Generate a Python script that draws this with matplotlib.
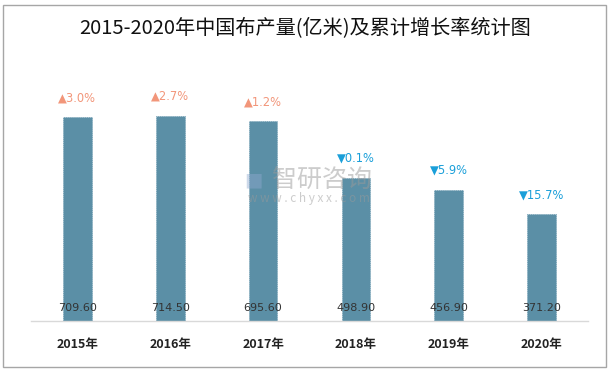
import matplotlib.pyplot as plt
from matplotlib.patches import Rectangle

plt.rcParams['font.family'] = ['Noto Sans CJK SC', 'DejaVu Sans']

years = ['2015年', '2016年', '2017年', '2018年', '2019年', '2020年']
output = [709.60, 714.50, 695.60, 498.90, 456.90, 371.20]
growth = [3.0, 2.7, 1.2, -0.1, -5.9, -15.7]

bar_color = '#5b8fa6'
up_color = '#f2967a'
down_color = '#1a9fd9'

fig = plt.figure(figsize=(6.11, 3.70), dpi=100)
ax = fig.add_axes([31 / 611, 49 / 370, 557 / 611, 262 / 370])

x = list(range(len(years)))
ax.bar(x, output, width=0.31, color=bar_color, edgecolor='#6f9db2',
       linewidth=0.5, linestyle=(0, (1.5, 1.5)))

for i, v in enumerate(output):
    ax.text(i, 45, f'{v:.2f}', ha='center', va='center', fontsize=8,
            color='#333333', family=['DejaVu Sans'])
    g = growth[i]
    if g >= 0:
        s, c = f'▲{abs(g):.1f}%', up_color
    else:
        s, c = f'▼{abs(g):.1f}%', down_color
    ax.annotate(s, xy=(i, v), xytext=(0, 14), textcoords='offset points',
                ha='center', va='center', fontsize=8.3, color=c,
                family=['DejaVu Sans'])

ax.set_xlim(-0.5, len(years) - 0.5)
ax.set_ylim(0, 912)
ax.set_xticks(x)
ax.set_xticklabels(years, fontsize=9, fontweight='bold', color='#222222')
ax.tick_params(axis='x', length=0, pad=12)
ax.set_yticks([])
for side in ['top', 'right', 'left']:
    ax.spines[side].set_visible(False)
ax.spines['bottom'].set_color('#d9d9d9')
ax.spines['bottom'].set_linewidth(1)

# watermark
fig.text(322 / 611, 1 - 180 / 370, '智研咨询', ha='center', va='center',
         fontsize=18, color='#9a9a9a', alpha=0.5)
fig.text(309 / 611, 1 - 199 / 370, 'w w w . c h y x x . c o m', ha='center',
         va='center', fontsize=8.5, color='#9a9a9a', alpha=0.5)
fig.text(253 / 611, 1 - 180 / 370, '■', ha='center', va='center',
         fontsize=14, color='#8fa9cf', alpha=0.45, family=['DejaVu Sans'])

fig.text(0.5, 1 - 28 / 370, '2015-2020年中国布产量(亿米)及累计增长率统计图',
         ha='center', va='center', fontsize=14.5, color='#111111')

fig.add_artist(Rectangle((3 / 611, 3 / 370), 603 / 611, 362 / 370,
                         transform=fig.transFigure, fill=False,
                         edgecolor='#a6a6a6', linewidth=1))

fig.savefig('out.png', dpi=100)
